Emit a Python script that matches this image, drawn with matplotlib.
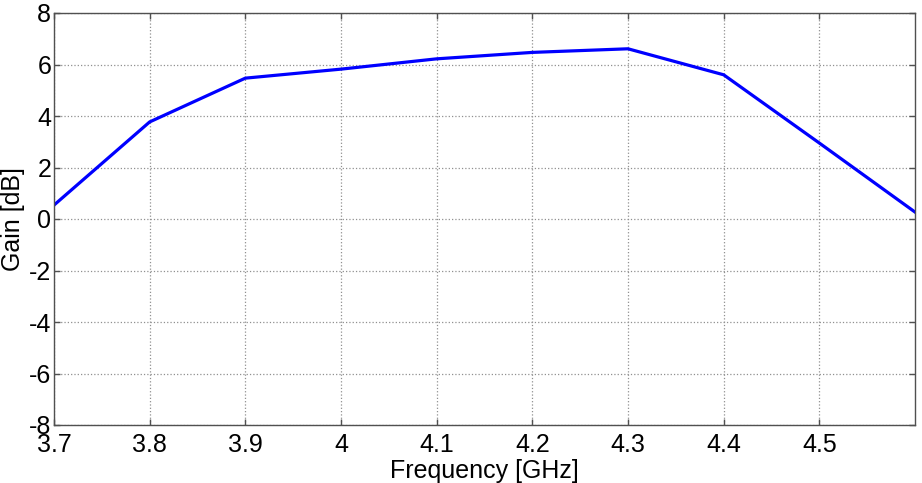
import matplotlib
matplotlib.use("Agg")
import matplotlib.pyplot as plt

freq = [3.7, 3.8, 3.9, 4.0, 4.1, 4.2, 4.3, 4.4, 4.5, 4.6]
gain = [0.54, 3.77, 5.47, 5.82, 6.22, 6.47, 6.61, 5.60, 2.95, 0.27]
xticks = [3.7, 3.8, 3.9, 4.0, 4.1, 4.2, 4.3, 4.4, 4.5]
xticklabels = ["3.7", "3.8", "3.9", "4", "4.1", "4.2", "4.3", "4.4", "4.5"]
yticks = [-8, -6, -4, -2, 0, 2, 4, 6, 8]

plt.rcParams['font.family'] = ['Liberation Sans', 'DejaVu Sans']
plt.rcParams['axes.unicode_minus'] = False

fig = plt.figure(figsize=(9.22, 4.83), dpi=100)
ax = fig.add_axes([54/922, 1-425/483, (915-54)/922, (425-13)/483])
ax.plot(freq, gain, color=(0, 0, 1), linewidth=2.3)
ax.set_xlim(3.7, 4.6)
ax.set_ylim(-8, 8)
ax.set_xticks(xticks)
ax.set_xticklabels(xticklabels)
ax.set_yticks(yticks)
ax.grid(True, linestyle=':', color='#909090', linewidth=0.9)
for s in ax.spines.values():
    s.set_color('#505050')
    s.set_linewidth(1.0)
ax.tick_params(axis='both', direction='in', length=4, width=1, color='#505050',
               labelsize=18, top=True, right=True)
ax.tick_params(axis='x', pad=6)
ax.tick_params(axis='y', pad=2)
ax.set_xlabel("Frequency [GHz]", fontsize=18, labelpad=1)
ax.set_ylabel("Gain [dB]", fontsize=18)
ax.yaxis.set_label_coords(-0.034, 0.5)
fig.savefig("out.png", dpi=100)
